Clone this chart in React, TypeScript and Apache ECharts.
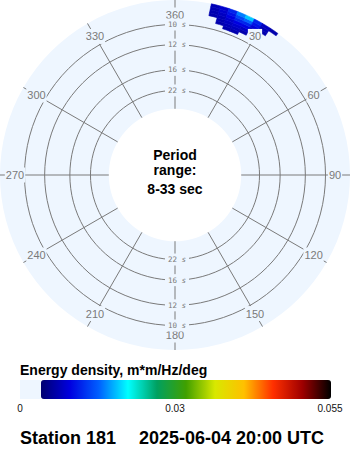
import React, { useEffect, useRef } from "react";
import * as echarts from "echarts";

// ---- data ----
const PERIODS = [10, 12, 16, 22]; // period circles, seconds
const PERIOD_RANGE = [8.316, 33]; // outer edge, inner hole (s)
const DIRECTION_TICKS = [0, 30, 60, 90, 120, 150, 180, 210, 240, 270, 300, 330];
const DIRECTION_LABELS = ["360", "30", "60", "90", "120", "150", "180", "210", "240", "270", "300", "330"];
const PERIOD_LABEL_DIRS = [0, 180];

// energy cells: direction bin centres (deg), frequency bin centres (Hz)
const HEAT_DIRECTIONS = [13.5, 16.5, 19.5, 22.5, 25.5, 28.5, 31.5, 34.5];
const HEAT_FREQUENCIES = [0.104, 0.1065, 0.109, 0.1115, 0.114, 0.1165, 0.119];
const HEAT_ENERGY = [
  [0, 0, 0.003, 0.003, 0, 0, 0, 0],
  [0, 0.003, 0.0035, 0.0038, 0.003, 0, 0, 0],
  [0, 0.0033, 0.004, 0.0045, 0.004, 0, 0, 0],
  [0.003, 0.0035, 0.0045, 0.0055, 0.0055, 0.0035, 0, 0],
  [0.0032, 0.004, 0.0055, 0.0075, 0.0075, 0.005, 0.003, 0],
  [0.0033, 0.0045, 0.0065, 0.0095, 0.011, 0.0065, 0.0035, 0],
  [0.0035, 0.0045, 0.0075, 0.012, 0.0145, 0.0075, 0.004, 0.003],
];
const DIR_BIN = 3;
const FREQ_BIN = 0.0025;

const COLORBAR_MIN = 0;
const COLORBAR_MAX = 0.055;
const COLORBAR_TICKS = ["0", "0.03", "0.055"];
const COLORMAP = [
  "#000070", "#0000E0", "#0060FF", "#00FFFF", "#00A060", "#40A000",
  "#D8E800", "#FFC000", "#FF3000", "#A00000", "#000000",
];

const LABEL_PERIOD = 9.272; // radius at which direction labels sit

const DISK = "#EEF6FF";
const GRID = "#7a7a7a";

export default function App() {
  const ref = useRef<HTMLDivElement>(null);
  useEffect(() => {
    if (!ref.current) return;
    const chart = echarts.init(ref.current, undefined, { renderer: "svg" });

    const heatData: number[][] = [];
    HEAT_FREQUENCIES.forEach((f, i) => {
      HEAT_DIRECTIONS.forEach((d, j) => {
        const v = HEAT_ENERGY[i][j];
        if (v > 0) heatData.push([f, d, v]);
      });
    });
    const fMin = 1 / PERIOD_RANGE[1];
    const fMax = 1 / PERIOD_RANGE[0];

    const option: any = {
      animation: false,
      polar: { center: [175, 175], radius: [66.2, 175] },
      angleAxis: {
        type: "value",
        min: 0,
        max: 360,
        interval: 30,
        startAngle: 90,
        clockwise: true,
        axisLine: { show: false },
        axisTick: { show: false },
        axisLabel: { show: false },
        splitLine: { show: false },
        splitArea: { show: false },
      },
      radiusAxis: {
        type: "value",
        min: fMin,
        max: fMax,
        axisLine: { show: false },
        axisTick: { show: false },
        axisLabel: { show: false },
        splitLine: { show: false },
      },
      visualMap: {
        type: "continuous",
        min: COLORBAR_MIN,
        max: COLORBAR_MAX,
        dimension: 2,
        seriesIndex: 2,
        orient: "horizontal",
        left: 41,
        top: 380,
        itemWidth: 19,
        itemHeight: 290,
        padding: 0,
        calculable: false,
        hoverLink: false,
        showLabel: false,
        inRange: { color: COLORMAP },
      },
      series: [
        {
          type: "custom",
          coordinateSystem: "polar",
          silent: true,
          data: DIRECTION_TICKS.map((d) => [fMax, d]),
          renderItem: (params: any, api: any) => {
            const d = api.value(1);
            const p0 = api.coord([fMin, d]);
            const p1 = api.coord([fMax, d]);
            return {
              type: "line",
              shape: { x1: p0[0], y1: p0[1], x2: p1[0], y2: p1[1] },
              style: { stroke: GRID, lineWidth: 1 },
            };
          },
        },
        {
          type: "custom",
          coordinateSystem: "polar",
          silent: true,
          data: PERIODS.map((p) => [1 / p, 0]),
          renderItem: (params: any, api: any) => {
            const cs = params.coordSys;
            const pt = api.coord([api.value(0), api.value(1)]);
            const r = Math.hypot(pt[0] - cs.cx, pt[1] - cs.cy);
            return {
              type: "circle",
              shape: { cx: cs.cx, cy: cs.cy, r },
              style: { fill: "none", stroke: GRID, lineWidth: 1 },
            };
          },
        },
        {
          type: "custom",
          coordinateSystem: "polar",
          silent: true,
          data: heatData,
          renderItem: (params: any, api: any) => {
            const cs = params.coordSys;
            const f = api.value(0);
            const d = api.value(1);
            const pIn = api.coord([f - FREQ_BIN / 2, d]);
            const pOut = api.coord([f + FREQ_BIN / 2, d]);
            const pA = api.coord([f, d - DIR_BIN / 2]);
            const pB = api.coord([f, d + DIR_BIN / 2]);
            const r0 = Math.hypot(pIn[0] - cs.cx, pIn[1] - cs.cy);
            const r = Math.hypot(pOut[0] - cs.cx, pOut[1] - cs.cy);
            let a0 = Math.atan2(pA[1] - cs.cy, pA[0] - cs.cx);
            let a1 = Math.atan2(pB[1] - cs.cy, pB[0] - cs.cx);
            if (a1 < a0) a1 += Math.PI * 2;
            const c = api.visual("color");
            return {
              type: "sector",
              shape: { cx: cs.cx, cy: cs.cy, r0, r, startAngle: a0, endAngle: a1, clockwise: true },
              style: { fill: c, stroke: c, lineWidth: 0.6 },
            };
          },
        },
        {
          type: "custom",
          coordinateSystem: "polar",
          silent: true,
          data: DIRECTION_TICKS.map((d, i) => [1 / LABEL_PERIOD, d, i]),
          renderItem: (params: any, api: any) => {
            const pt = api.coord([api.value(0), api.value(1)]);
            return {
              type: "text",
              x: pt[0],
              y: pt[1],
              style: {
                text: DIRECTION_LABELS[api.value(2)],
                fill: "#7a7a7a",
                fontSize: 11,
                fontFamily: "Liberation Sans, Arial, sans-serif",
                align: "center",
                verticalAlign: "middle",
                backgroundColor: DISK,
                padding: [2, 1],
              },
            };
          },
        },
        {
          type: "custom",
          coordinateSystem: "polar",
          silent: true,
          data: PERIODS.flatMap((p, i) => PERIOD_LABEL_DIRS.map((d) => [1 / p, d, i])),
          renderItem: (params: any, api: any) => {
            const pt = api.coord([api.value(0), api.value(1)]);
            const p = PERIODS[api.value(2)];
            return {
              type: "text",
              x: pt[0] + 2,
              y: pt[1],
              style: {
                text: `{n|${p} }{s|s}`,
                fill: "#7a7a7a",
                fontSize: 7.5,
                fontFamily: "DejaVu Sans Mono, monospace",
                align: "center",
                verticalAlign: "middle",
                backgroundColor: DISK,
                padding: [2, 3],
                rich: {
                  n: { fontSize: 7.5, fontFamily: "DejaVu Sans Mono, monospace", fill: "#7a7a7a" },
                  s: { fontSize: 7.5, fontFamily: "DejaVu Sans Mono, monospace", fontStyle: "italic", fill: "#7a7a7a" },
                },
              },
            };
          },
        },
      ],
      graphic: [
        { type: "ring", shape: { cx: 175, cy: 175, r: 175, r0: 66.2 }, style: { fill: DISK }, z: -1, silent: true },
        {
          type: "text", x: 175, y: 154.7,
          style: { text: "Period", font: "bold 14px 'Liberation Sans', Arial, sans-serif", fill: "#000", align: "center", verticalAlign: "middle" },
        },
        {
          type: "text", x: 175, y: 169.5,
          style: { text: "range:", font: "bold 14px 'Liberation Sans', Arial, sans-serif", fill: "#000", align: "center", verticalAlign: "middle" },
        },
        {
          type: "text", x: 175, y: 188.7,
          style: { text: "8-33 sec", font: "bold 14px 'Liberation Sans', Arial, sans-serif", fill: "#000", align: "center", verticalAlign: "middle" },
        },
        {
          type: "text", x: 20, y: 370,
          style: { text: "Energy density, m*m/Hz/deg", font: "bold 14px 'Liberation Sans', Arial, sans-serif", fill: "#000", align: "left", verticalAlign: "middle" },
        },
        { type: "rect", shape: { x: 20, y: 380, width: 21, height: 19 }, style: { fill: DISK }, silent: true },
        {
          type: "text", x: 20, y: 408,
          style: { text: COLORBAR_TICKS[0], font: "10px 'Liberation Sans', Arial, sans-serif", fill: "#111", align: "center", verticalAlign: "middle" },
        },
        {
          type: "text", x: 175, y: 408,
          style: { text: COLORBAR_TICKS[1], font: "10px 'Liberation Sans', Arial, sans-serif", fill: "#111", align: "center", verticalAlign: "middle" },
        },
        {
          type: "text", x: 330, y: 408,
          style: { text: COLORBAR_TICKS[2], font: "10px 'Liberation Sans', Arial, sans-serif", fill: "#111", align: "center", verticalAlign: "middle" },
        },
        {
          type: "text", x: 20, y: 438,
          style: { text: "Station 181", font: "bold 18px 'Liberation Sans', Arial, sans-serif", fill: "#000", align: "left", verticalAlign: "middle" },
        },
        {
          type: "text", x: 139, y: 438,
          style: { text: "2025-06-04 20:00 UTC", font: "bold 18px 'Liberation Sans', Arial, sans-serif", fill: "#000", align: "left", verticalAlign: "middle" },
        },
      ],
    };
    chart.setOption(option);
    return () => chart.dispose();
  }, []);
  return (
    <div
      ref={ref}
      style={{ position: "absolute", left: 0, top: 0, width: 350, height: 450, background: "#fff" }}
    />
  );
}
